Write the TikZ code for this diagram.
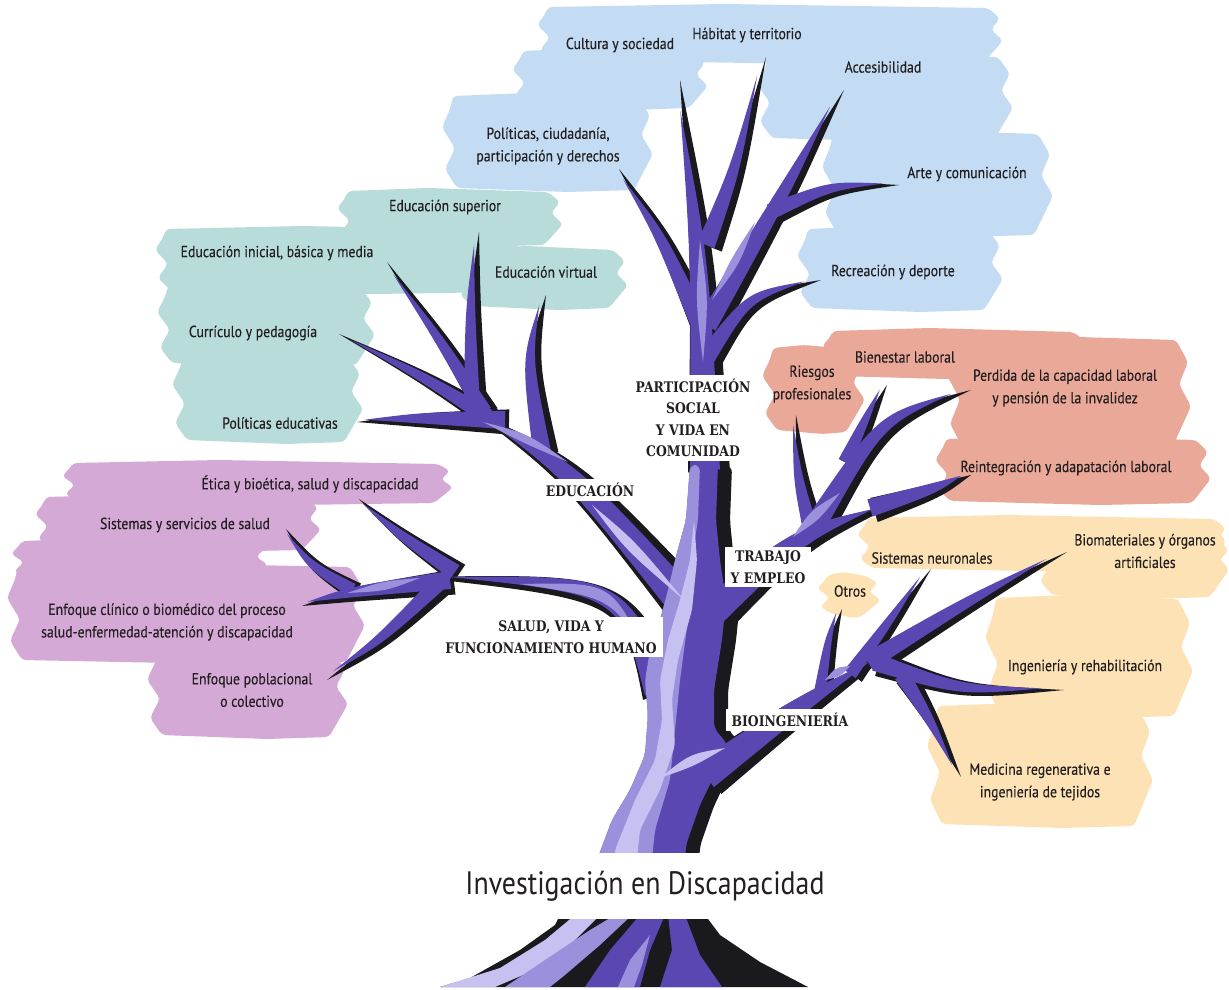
\documentclass[tikz,border=0pt]{standalone}
\usepackage{fontspec}
\usetikzlibrary{calc}
\newfontfamily\lab[FakeStretch=0.86,FakeBold=0.3]{PT Sans}
\newfontfamily\ttl[FakeStretch=0.86]{PT Sans}
\newfontfamily\hdrfont[FakeStretch=0.85]{DejaVu Serif}
\definecolor{cblue}{HTML}{C3DCF3}
\definecolor{cteal}{HTML}{B8DCD9}
\definecolor{cpink}{HTML}{D4A9D6}
\definecolor{csalm}{HTML}{E9A898}
\definecolor{cpeach}{HTML}{FDE2B5}
\definecolor{pdark}{HTML}{5A47B2}
\definecolor{pmed}{HTML}{9A90DC}
\definecolor{plight}{HTML}{C6C1F1}
\definecolor{tblack}{HTML}{1A1A1E}
\definecolor{txt}{HTML}{231F20}

% ragged brush band: colour, x1, x2, y1, y2
\newcommand\brush[5]{%
  \pgfmathsetmacro\bh{#5-#4}%
  \fill[#1,rounded corners=4pt] (#2+8,#4+1) -- (0.6*#2+0.4*#3,#4-2) -- (#3-12,#4+2)
    -- (#3,#4+0.22*\bh) -- (#3-9,#4+0.42*\bh) -- (#3+3,#4+0.62*\bh) -- (#3-7,#4+0.82*\bh)
    -- (#3-16,#5) -- (0.4*#2+0.6*#3,#5+2) -- (#2+12,#5-2) -- (#2,#4+0.78*\bh)
    -- (#2+10,#4+0.56*\bh) -- (#2-3,#4+0.34*\bh) -- (#2+5,#4+0.15*\bh) -- cycle;}

% tapered limb: base, mid, tip, half width
\newcommand\limb[4]{%
  \fill[limbfill] ($#1!{#4*\lw*1pt}!90:#2$) .. controls ($#2!{#4*\lw*0.6pt}!90:#3$) .. ($#2!\lt!#3$)
    .. controls ($#2!{#4*\lw*0.6pt}!-90:#3$) .. ($#1!{#4*\lw*1pt}!-90:#2$) -- cycle;}

% highlight stripe: colour, start, mid, end, half width
\newcommand\stripe[5]{%
  \fill[#1] #2 .. controls ($#3!{#5*1.3pt}!90:#4$) .. #4 .. controls ($#3!{#5*1.3pt}!-90:#4$) .. #2 -- cycle;}

\newcommand\treeparts{%
  % participation
  \limb{(705,470)}{(700,260)}{(676,78)}{15}
  \limb{(706,245)}{(735,170)}{(762,55)}{9}
  \limb{(706,325)}{(785,190)}{(840,88)}{11}
  \limb{(770,212)}{(830,186)}{(895,183)}{8}
  \limb{(698,320)}{(660,235)}{(615,167)}{9}
  \limb{(706,358)}{(748,297)}{(817,278)}{9}
  % education
  \limb{(690,610)}{(570,470)}{(470,410)}{17}
  \limb{(505,420)}{(420,418)}{(353,420)}{9}
  \limb{(488,417)}{(420,375)}{(335,332)}{8}
  \limb{(484,412)}{(440,340)}{(383,260)}{8}
  \limb{(472,405)}{(470,310)}{(475,230)}{8}
  \limb{(542,452)}{(527,360)}{(542,293)}{9}
  % health
  \limb{(660,690)}{(620,585)}{(410,575)}{16}
  \limb{(455,572)}{(400,535)}{(355,497)}{8}
  \limb{(352,590)}{(310,565)}{(282,527)}{7}
  \limb{(450,580)}{(350,592)}{(298,604)}{9}
  \limb{(440,582)}{(380,640)}{(323,678)}{8}
  % work
  \limb{(712,612)}{(800,535)}{(890,503)}{15}
  \limb{(870,508)}{(935,488)}{(967,473)}{9}
  \limb{(812,535)}{(798,480)}{(792,413)}{8}
  \limb{(812,530)}{(880,420)}{(967,388)}{11}
  \limb{(845,462)}{(865,420)}{(883,383)}{7}
  % bioengineering
  \limb{(705,775)}{(800,705)}{(885,652)}{15}
  \limb{(820,692)}{(828,640)}{(838,607)}{6}
  \limb{(850,674)}{(890,620)}{(927,567)}{7}
  \limb{(868,662)}{(970,600)}{(1063,550)}{9}
  \limb{(875,662)}{(960,690)}{(1060,688)}{9}
  \limb{(902,675)}{(930,720)}{(957,775)}{8}
}

\newcommand\trunkpath{(590,925) -- (597,860) -- (612,820) -- (630,790) -- (645,755) -- (648,715)
  -- (645,680) -- (650,650) -- (660,620) -- (668,590) -- (675,560) -- (686,520) -- (690,465)
  -- (718,465) -- (716,520) -- (720,560) -- (726,600) -- (722,640) -- (714,690) -- (714,728)
  -- (728,745) -- (716,772) -- (700,805) -- (686,845) -- (682,925) -- cycle}

\tikzset{
  lbl/.style={font=\lab\fontsize{16}{22.5}\selectfont, align=center, inner sep=0pt, text=txt},
  hdrbox/.style={font=\hdrfont\bfseries\fontsize{14.6}{21.5}\selectfont, align=center,
    fill=white, inner xsep=6pt, inner ysep=4pt, text=txt},
  limbfill/.style={fill=pdark}
}

\begin{document}
\begin{tikzpicture}[x=1pt,y=-1pt]
\fill[white] (0,0) rectangle (1229,990);
\useasboundingbox (0,0) rectangle (1229,990);

% ---------- clouds ----------
\brush{cblue}{540}{1000}{6}{62}
\brush{cblue}{515}{705}{50}{108}
\brush{cblue}{445}{650}{95}{190}
\brush{cblue}{760}{1010}{55}{140}
\brush{cblue}{825}{1050}{132}{235}
\brush{cblue}{800}{1000}{228}{310}

\brush{cteal}{340}{560}{190}{245}
\brush{cteal}{158}{520}{228}{292}
\brush{cteal}{460}{625}{248}{308}
\brush{cteal}{160}{372}{285}{365}
\brush{cteal}{175}{360}{355}{442}

\brush{cpink}{65}{450}{462}{503}
\brush{cpink}{38}{318}{496}{550}
\brush{cpink}{14}{265}{540}{580}
\brush{cpink}{10}{362}{565}{662}
\brush{cpink}{150}{345}{650}{737}

\brush{csalm}{765}{862}{347}{432}
\brush{csalm}{825}{1085}{330}{378}
\brush{csalm}{950}{1188}{338}{448}
\brush{csalm}{938}{1208}{438}{503}

\brush{cpeach}{860}{1226}{517}{570}
\brush{cpeach}{1040}{1226}{525}{597}
\brush{cpeach}{820}{878}{574}{616}
\brush{cpeach}{988}{1190}{597}{716}
\brush{cpeach}{930}{1150}{705}{826}

% ---------- tree: shadow ----------
\begin{scope}[shift={(4,2)}, limbfill/.style={fill=tblack}]
  \def\lw{1.4}\def\lt{1}
  \treeparts
\end{scope}
\begin{scope}[shift={(14,1)}]
  \fill[tblack, rounded corners=6pt] \trunkpath;
\end{scope}

% ---------- tree: body ----------
\fill[pdark, rounded corners=6pt] \trunkpath;
\begin{scope}
  \def\lw{1}\def\lt{0.82}
  \treeparts
\end{scope}

% trunk lighter layers
\fill[pmed, rounded corners=6pt] (590,925) -- (597,860) -- (612,820) -- (630,790) -- (645,755)
  -- (648,715) -- (645,680) -- (650,650) -- (660,620) -- (668,590) -- (675,560) -- (686,520)
  -- (690,465) -- (700,465) -- (698,520) -- (690,570) -- (688,620) -- (680,680) -- (675,730)
  -- (670,780) -- (655,830) -- (645,925) -- cycle;
\fill[plight, rounded corners=4pt] (612,925) -- (615,850) -- (635,800) -- (655,760) -- (662,720)
  -- (660,680) -- (668,640) -- (680,600) -- (690,560) -- (694,520) -- (697,560) -- (692,610)
  -- (678,660) -- (672,700) -- (675,745) -- (660,790) -- (640,830) -- (630,925) -- cycle;

% highlight stripes on branches
\stripe{plight}{(684,600)}{(630,545)}{(592,505)}{5}
\stripe{pmed}{(483,422)}{(525,438)}{(568,462)}{4}
\stripe{pmed}{(645,650)}{(610,590)}{(520,584)}{6}
\stripe{pmed}{(420,578)}{(385,586)}{(347,593)}{4}
\stripe{pmed}{(703,362)}{(702,300)}{(700,240)}{5}
\stripe{pmed}{(712,300)}{(735,262)}{(755,222)}{4}
\stripe{pmed}{(793,537)}{(815,515)}{(840,493)}{5}
\stripe{pmed}{(825,680)}{(838,672)}{(850,666)}{4}
\stripe{plight}{(660,778)}{(692,760)}{(725,748)}{5}

% ---------- base of the tree ----------
\fill[tblack] (440,987) -- (470,978) -- (520,950) -- (555,925) -- (560,915) -- (705,915)
  -- (720,935) -- (760,962) -- (808,987) -- cycle;
\fill[plight] (440,987) -- (500,968) -- (545,940) -- (575,915) -- (600,915) -- (570,945)
  -- (530,972) -- (495,987) -- cycle;
\fill[pmed] (505,987) -- (545,960) -- (590,930) -- (615,915) -- (632,915) -- (600,945)
  -- (565,975) -- (550,987) -- cycle;
\fill[pdark] (585,987) -- (610,950) -- (640,915) -- (665,915) -- (650,950) -- (640,987) -- cycle;
\fill[pdark] (660,987) -- (672,950) -- (668,915) -- (685,915) -- (700,955) -- (722,987) -- cycle;
\fill[pmed] (618,987) -- (630,960) -- (650,935) -- (642,965) -- (634,987) -- cycle;

% ---------- category headers ----------
\node[hdrbox] (h1) at (693,418) {PARTICIPACIÓN\\SOCIAL\\Y VIDA EN\\COMUNIDAD};
\node[hdrbox] (h2) at (590,490) {EDUCACIÓN};
\node[hdrbox] (h3) at (768,567) {TRABAJO\\Y EMPLEO};
\node[hdrbox] (h4) at (551,637) {SALUD, VIDA Y\\FUNCIONAMIENTO HUMANO};
\node[hdrbox] (h5) at (790,720) {BIOINGENIERÍA};

% ---------- labels ----------
\node[lbl] (l1) at (620,45) {Cultura y sociedad};
\node[lbl] (l2) at (747,35) {Hábitat y territorio};
\node[lbl] (l3) at (883,67) {Accesibilidad};
\node[lbl] (l4) at (548,146) {Políticas, ciudadanía,\\participación y derechos};
\node[lbl] (l5) at (967,174) {Arte y comunicación};
\node[lbl] (l6) at (893,272) {Recreación y deporte};

\node[lbl] (e1) at (445,207) {Educación superior};
\node[lbl] (e2) at (277,253) {Educación inicial, básica y media};
\node[lbl] (e3) at (546,272) {Educación virtual};
\node[lbl] (e4) at (253,333) {Currículo y pedagogía};
\node[lbl] (e5) at (280,423) {Políticas educativas};

\node[lbl] (s1) at (310,484) {Ética y bioética, salud y discapacidad};
\node[lbl] (s2) at (185,525) {Sistemas y servicios de salud};
\node[lbl] (s3) at (167,622) {Enfoque clínico o biomédico del proceso\\salud-enfermedad-atención y discapacidad};
\node[lbl] (s4) at (252,690) {Enfoque poblacional\\o colectivo};

\node[lbl] (t1) at (812,384) {Riesgos\\profesionales};
\node[lbl] (t2) at (905,357) {Bienestar laboral};
\node[lbl] (t3) at (1065,388) {Perdida de la capacidad laboral\\y pensión de la invalidez};
\node[lbl] (t4) at (1066,468) {Reintegración y adapatación laboral};

\node[lbl] (b1) at (932,558) {Sistemas neuronales};
\node[lbl] (b2) at (1145,551) {Biomateriales y órganos\\artificiales};
\node[lbl] (b3) at (850,591) {Otros};
\node[lbl] (b4) at (1085,667) {Ingeniería y rehabilitación};
\node[lbl] (b5) at (1040,782) {Medicina regenerativa e\\ingeniería de tejidos};

% ---------- title band ----------
\node[fill=white, minimum width=420pt, minimum height=66pt, inner sep=0pt,
  font=\ttl\fontsize{32.4}{38}\selectfont, text=txt] (title) at (645,886) {Investigación en Discapacidad};
\end{tikzpicture}
\end{document}
